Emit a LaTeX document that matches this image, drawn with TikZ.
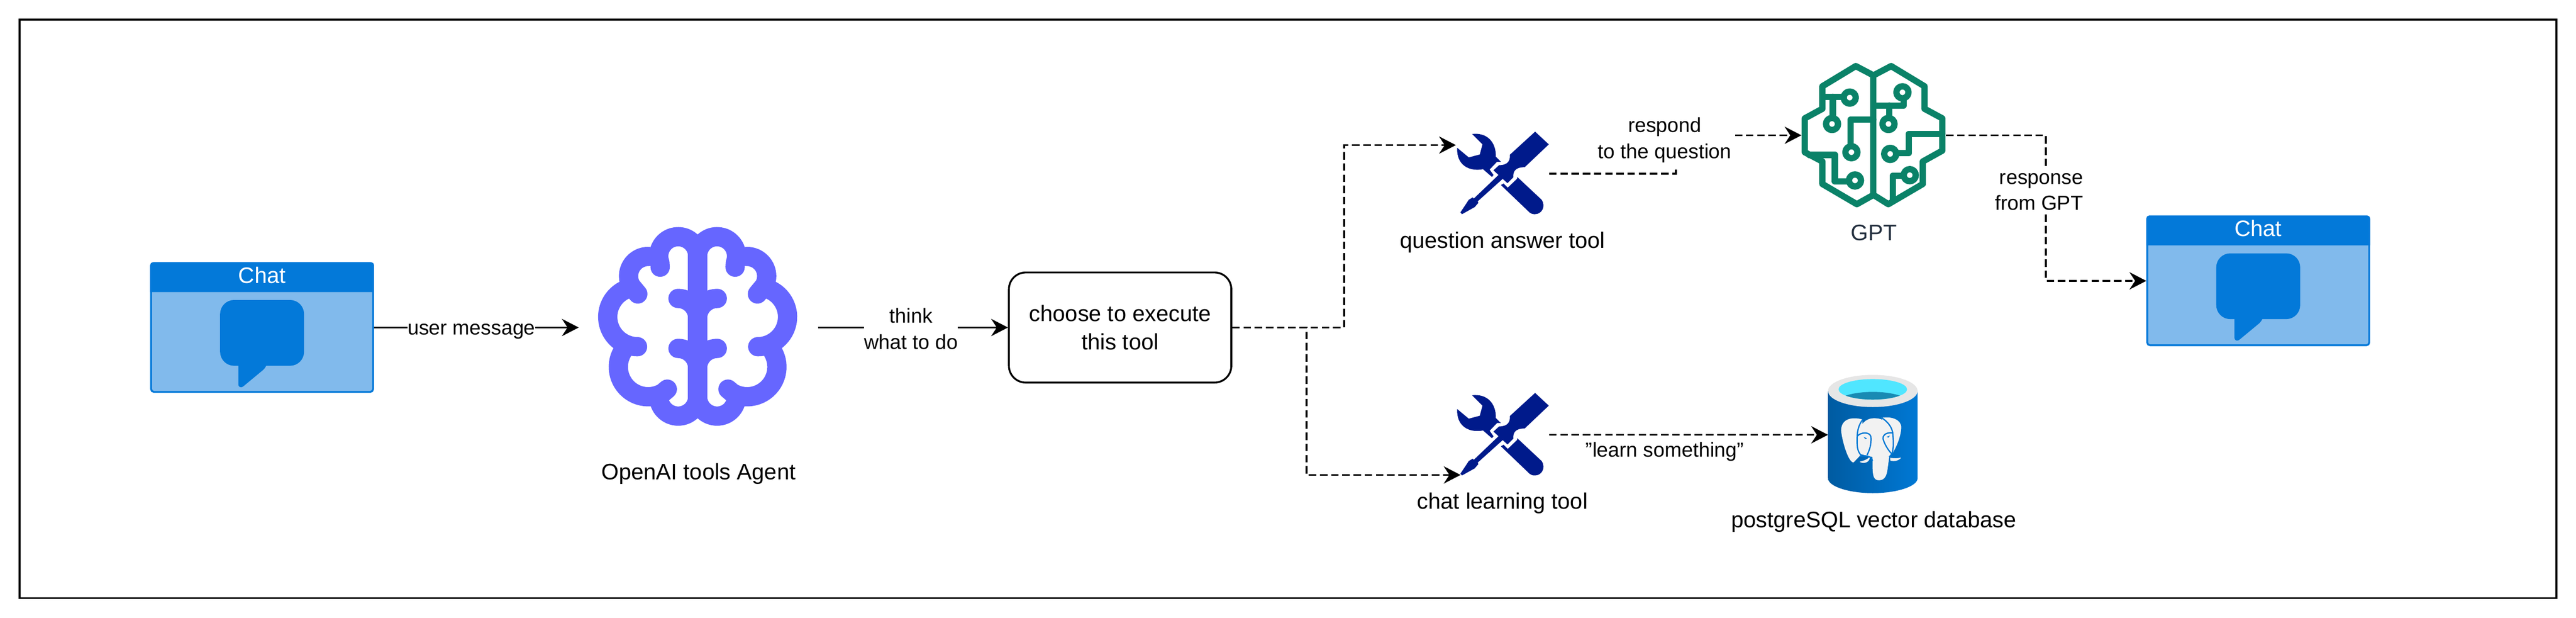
\documentclass[tikz,border=0pt]{standalone}
\usepackage{fontspec}
\setmainfont{Liberation Sans}
\usetikzlibrary{arrows.meta}
\definecolor{chatblue}{HTML}{0379D9}
\definecolor{chatlight}{HTML}{81BAEC}
\definecolor{brainviolet}{HTML}{6666FF}
\definecolor{toolnavy}{HTML}{001A8B}
\definecolor{gptgreen}{HTML}{0A8268}
\definecolor{gpttext}{HTML}{232F3E}
\definecolor{dbleft}{HTML}{005BA1}
\definecolor{dbright}{HTML}{0078D4}
\definecolor{dbrim}{HTML}{E6E6E6}
\definecolor{dbcyan}{HTML}{50E6FF}
\definecolor{dbwater}{HTML}{198AB3}
\definecolor{elephant}{HTML}{F2F2F2}
\begin{document}
\begin{tikzpicture}[>={Stealth[length=.36cm,width=.37cm,inset=.12cm]}, y=-1cm,
chatbox/.style={rectangle, draw=chatblue, fill=chatlight, line width=.04cm, rounded corners=.06cm, minimum width=4.76cm, minimum height=2.76cm, inner sep=0},
iconbox/.style={rectangle, inner sep=0, outer sep=0},
choosebox/.style={rectangle, draw, line width=.04cm, rounded corners=.36cm, minimum width=4.77cm, minimum height=2.36cm, inner sep=0, align=center, font=\fontsize{13.66}{17.07}\selectfont},
solidline/.style={->, line width=.04cm},
dashline/.style={->, line width=.04cm, dash pattern=on .16cm off .08cm},
caption/.style={anchor=base, inner sep=0, font=\fontsize{13.66}{17.07}\selectfont},
edgelabel/.style={inner sep=0, fill=white, align=center, font=\fontsize{12.4}{15.9}\selectfont},
brainline/.style={draw=brainviolet, line width=.413cm, line cap=round, line join=round},
gptline/.style={draw=gptgreen, line width=.135cm, line cap=round, line join=round},
chatwindow/.pic={
  \fill[chatblue] (-2.4,-.76) {[rounded corners=.06cm] -- (-2.4,-1.4) -- (2.4,-1.4)} -- (2.4,-.76) -- cycle;
  \fill[chatblue, rounded corners=.3cm] (-.9,-.59) rectangle (.9,.82);
  \fill[chatblue, rounded corners=.15cm] (-.51,.6) -- (-.51,1.35) -- (.13,.82) -- (.13,.6) -- cycle;
  \node[caption, text=white] (title) at (0,-.95) {Chat};
},
brainhalf/.pic={
  \begin{scope}[x=.3827cm, y=.3827cm]
  \draw[brainline] (0,3.92) arc (180:-20:1.09) -- (2.10,3.30);
  \draw[brainline] (2.77,3.90) arc (90:-30:1.10) -- (3.35,1.80);
  \draw[brainline] (3.80,2.13) arc (75:-90:1.67);
  \draw[brainline] (4.22,-1.45) arc (30:-120:1.67) -- (1.70,-3.53);
  \draw[brainline] (0,-3.95) arc (180:360:1.09);
  \draw[brainline] (1.10,1.55) arc (90:180:1.10);
  \draw[brainline] (1.10,-1.25) arc (90:180:1.10);
  \end{scope}
},
toolicon/.pic={
  \begin{scope}[x=.006378cm, y=-.003333cm, shift={(-585,-456)}]
  % SCREWDRIVER
  \fill[toolnavy] (693,186) -- (739,268) -- (658,415) .. controls (625,415) and (618,445) .. (620,480) -- (600,518) -- (584,490) -- (500,635) -- (502,645) -- (490,672) -- (447,718) -- (442,706) -- (470,625) -- (483,610) -- (487,617) -- (570,465) -- (553,435) -- (572,402) .. controls (600,402) and (610,375) .. (608,335) -- cycle;
  % WRENCH
  \fill[toolnavy] (481,201) .. controls (530,190) and (562,250) .. (561,348) -- (578,380) -- (565,380) -- (540,430) -- (553,465) -- (548,478) -- (518,428) .. controls (470,445) and (428,400) .. (431,290) -- (470,352) -- (507,333) -- (516,268) -- cycle;
  \fill[toolnavy] (633,478) -- (715,625) .. controls (730,670) and (715,718) .. (692,718) .. controls (685,718) and (680,715) .. (675,708) -- (578,530) -- (587,520) -- (601,547) -- (632,490) -- cycle;
  \end{scope}
}]
\useasboundingbox (0,0) rectangle (55.24,13.24);

% FRAME
\draw[line width=.04cm] (.42,.42) rectangle (54.82,12.82);

% NODES
\node[chatbox] (chat1) at (5.62,7.02) {};
\pic (chat1) at (5.62,7.02) {chatwindow};
\node[iconbox, minimum width=5.13cm, minimum height=5.13cm] (brain) at (14.975,7.02) {};
\node[choosebox] (choose) at (24.02,7.02) {choose to execute\\this tool};
\node[iconbox, minimum width=1.98cm, minimum height=1.78cm] (tool1) at (32.23,3.72) {};
\node[iconbox, minimum width=1.98cm, minimum height=1.78cm] (tool2) at (32.23,9.32) {};
\node[iconbox, minimum width=3.10cm, minimum height=3.11cm] (gpt) at (40.18,2.90) {};
\node[iconbox, minimum width=1.92cm, minimum height=2.54cm] (db) at (40.16,9.32) {};
\node[chatbox] (chat2) at (48.425,6.02) {};
\pic (chat2) at (48.425,6.02) {chatwindow};
\coordinate (tool1in) at (31.22,3.11);
\coordinate (tool2in) at (31.32,10.18);

% BRAIN
\pic at (14.96,6.99) {brainhalf};
\pic[xscale=-1] at (14.96,6.99) {brainhalf};
\draw[brainline] (14.96,5.49) -- (14.96,8.50);

% TOOLS
\pic at (32.23,3.72) {toolicon};
\pic at (32.23,9.32) {toolicon};

% GPT
\begin{scope}[shift={(37.5,1.3)}, x=.003333cm, y=-.003333cm]
\draw[gptline] (804,95) -- (690,35) -- (475,165) -- (475,310) -- (361,372) -- (361,590) -- (475,650) -- (475,795) -- (697,925) -- (804,865);
\draw[gptline] (804,95) -- (918,35) -- (1133,165) -- (1133,310) -- (1248,372) -- (1248,580) -- (1122,650) -- (1122,795) -- (900,925) -- (804,865);
\draw[gptline] (804,95) -- (804,865);
\draw[gptline] (475,233) -- (612,233);
\draw[gptline] (542,233) -- (542,370);
\draw[gptline] (657,530) -- (657,380) -- (804,380);
\draw[gptline] (390,607) -- (555,607) -- (555,778) -- (650,778);
\draw[gptline] (804,289) -- (998,289) -- (998,240);
\draw[gptline] (906,289) -- (906,370);
\draw[gptline] (950,595) -- (1032,595) -- (1032,472) -- (1248,472);
\draw[gptline] (1000,742) -- (928,742) -- (928,905);
\draw[gptline, fill=white] (651,238) circle[radius=39];
\draw[gptline, fill=white] (537,408) circle[radius=39];
\draw[gptline, fill=white] (662,590) circle[radius=39];
\draw[gptline, fill=white] (685,772) circle[radius=39];
\draw[gptline, fill=white] (991,204) circle[radius=39];
\draw[gptline, fill=white] (901,408) circle[radius=39];
\draw[gptline, fill=white] (912,601) circle[radius=39];
\draw[gptline, fill=white] (1038,738) circle[radius=39];
\end{scope}

% DATABASE
\begin{scope}[shift={(40.16,8.38)}]
\shade[left color=dbleft, right color=dbright] (-.96,0) -- (-.96,1.87) .. controls (-.96,2.05) and (-.5,2.19) .. (0,2.19) .. controls (.5,2.19) and (.96,2.05) .. (.96,1.87) -- (.96,0) -- cycle;
\fill[dbrim] (0,0) ellipse (.96 and .345);
\fill[dbcyan] (0,-.035) ellipse (.735 and .22);
\begin{scope}
\clip (0,-.035) ellipse (.735 and .22);
\fill[dbwater] (0,.30) ellipse (.83 and .28);
\end{scope}
\end{scope}
\begin{scope}[shift={(38.5,7.8)}, x=.003333cm, y=-.003333cm, line width=.027cm]
\fill[elephant] (432,358) .. controls (370,340) and (295,350) .. (295,430) .. controls (300,490) and (340,635) .. (375,635) -- (418,590) -- (432,500) -- cycle;
\fill[elephant] (555,348) .. controls (620,335) and (683,360) .. (683,410) .. controls (680,470) and (650,540) .. (622,582) -- (610,450) -- cycle;
\fill[elephant] (510,350) .. controls (450,350) and (415,390) .. (405,460) -- (415,580) -- (497,600) -- (498,680) .. controls (500,730) and (510,750) .. (540,750) .. controls (580,750) and (590,710) .. (594,680) -- (605,600) -- (625,575) .. controls (635,500) and (630,430) .. (605,395) .. controls (580,365) and (550,350) .. (510,350) -- cycle;
\fill[elephant] (415,630) .. controls (440,625) and (465,615) .. (478,600) .. controls (485,625) and (450,650) .. (415,632) -- cycle;
\fill[elephant] (612,605) .. controls (640,610) and (660,608) .. (682,604) .. controls (665,628) and (625,630) .. (612,622) -- cycle;
\draw[dbright] (435,358) .. controls (405,395) and (398,440) .. (398,480) .. controls (398,520) and (395,560) .. (425,590);
\draw[dbright] (400,465) .. controls (420,440) and (480,435) .. (487,470) .. controls (490,520) and (480,550) .. (462,588);
\draw[dbright] (415,595) .. controls (450,590) and (490,590) .. (497,625);
\draw[dbright] (558,348) .. controls (590,370) and (620,400) .. (628,445) .. controls (632,500) and (635,540) .. (622,580) -- (605,600);
\draw[dbright] (628,445) .. controls (600,440) and (565,450) .. (565,480) .. controls (570,510) and (600,560) .. (622,580);
\fill[dbright] (440,470) -- (462,480) -- (450,484) -- cycle;
\fill[dbright] (588,470) -- (610,462) -- (600,475) -- cycle;
\end{scope}

% CAPTIONS
\node[caption] (braintext) at (14.98,10.28) {OpenAI tools Agent};
\node[caption] (tool1text) at (32.22,5.32) {question answer tool};
\node[caption] (tool2text) at (32.22,10.91) {chat learning tool};
\node[caption, text=gpttext] (gpttext) at (40.18,5.15) {GPT};
\node[caption] (dbtext) at (40.18,11.31) {postgreSQL vector database};

% CONNECTORS
\draw[solidline] (chat1) -- (brain) node[edgelabel, pos=.476, yshift=-.08cm] (usertext) {user message};
\draw[solidline] (brain) -- (choose) node[edgelabel, pos=.49, yshift=-.03cm] (thinktext) {think\\what to do};
\draw[dashline] (choose.east) -- ++(2.40,0) |- (tool1in);
\draw[dashline] (choose.east) -- ++(1.59,0) |- (tool2in);
\draw[dashline] (tool1.east) -- ++(2.72,0) |- (gpt.west);
\draw[dashline] (gpt.east) -- ++(2.14,0) |- (chat2.west);
\draw[dashline] (tool2) -- (db);
\node[edgelabel, inner sep=.08cm] (respondtext) at (35.70,3.00) {respond\\to the question};
\node[edgelabel, inner ysep=.08cm, align=right] (responsetext) at (43.725,4.11) {response\\from GPT};
\node[edgelabel, anchor=base, fill=none] (learntext) at (35.70,9.79) {"learn something"};
\end{tikzpicture}
\end{document}
